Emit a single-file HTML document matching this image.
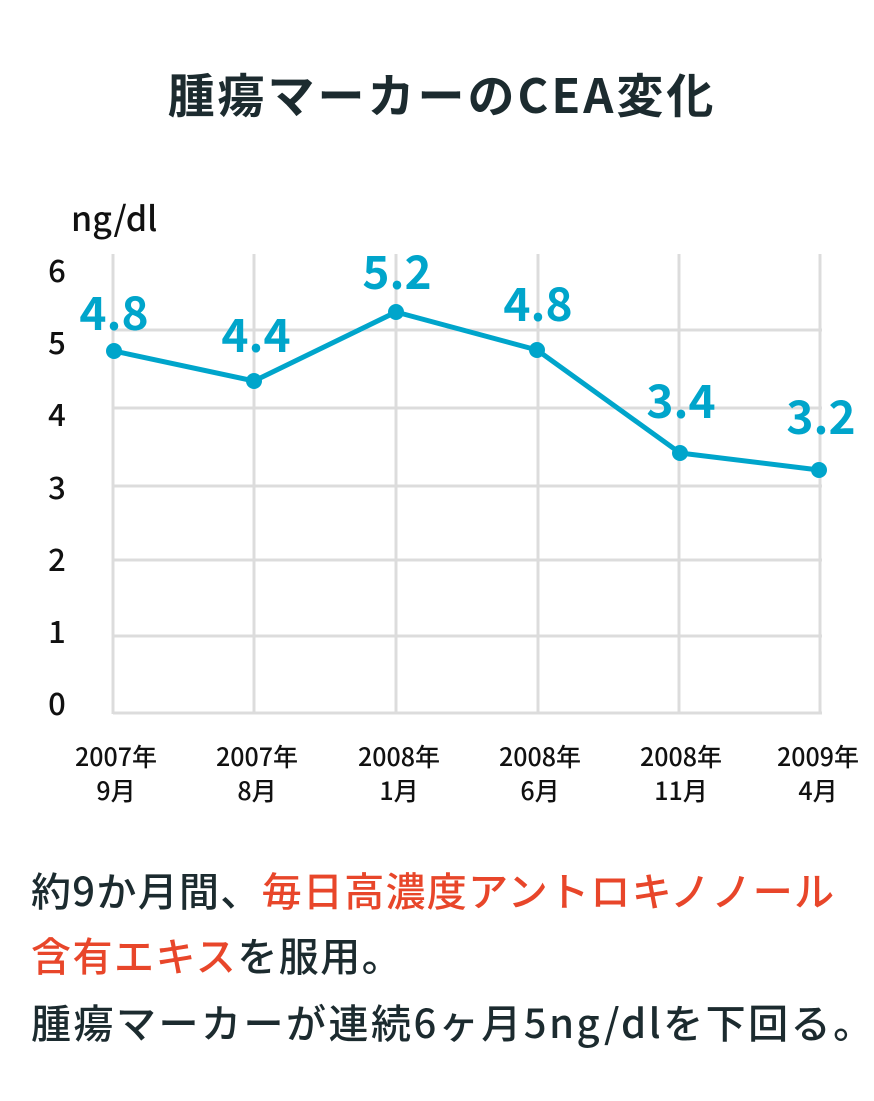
<!DOCTYPE html>
<html><head><meta charset="utf-8"><style>
body{margin:0;background:#fff;}
svg text{font-family:"Noto Sans CJK JP",sans-serif;}
</style></head><body>
<svg width="874" height="1096" viewBox="0 0 874 1096" xmlns="http://www.w3.org/2000/svg">
<rect width="874" height="1096" fill="#fff"/>
<text x="442" y="113" text-anchor="middle" font-size="47" font-weight="bold" letter-spacing="3" fill="#1c2b2f">腫瘍マーカーのCEA変化</text>
<text x="71" y="231" font-size="34" font-weight="500" fill="#111">ng/dl</text>
<g stroke="#dcdcdc" stroke-width="3">
<line x1="113" y1="254" x2="113" y2="714"/><line x1="254" y1="254" x2="254" y2="714"/><line x1="396" y1="254" x2="396" y2="714"/><line x1="538" y1="254" x2="538" y2="714"/><line x1="679" y1="254" x2="679" y2="714"/><line x1="820" y1="254" x2="820" y2="714"/>
<line x1="113" y1="713" x2="822" y2="713"/><line x1="113" y1="636" x2="822" y2="636"/><line x1="113" y1="560" x2="822" y2="560"/><line x1="113" y1="486" x2="822" y2="486"/><line x1="113" y1="408" x2="822" y2="408"/><line x1="113" y1="330" x2="822" y2="330"/>
</g>
<g font-size="31" font-weight="500" fill="#111" text-anchor="middle">
<text x="57" y="282">6</text><text x="57" y="354">5</text><text x="57" y="426">4</text><text x="57" y="499">3</text><text x="57" y="571">2</text><text x="57" y="643">1</text><text x="57" y="715">0</text>
</g>
<g font-size="25" font-weight="500" fill="#111" text-anchor="middle">
<text x="116" y="766">2007年</text><text x="116" y="800">9月</text>
<text x="257" y="766">2007年</text><text x="257" y="800">8月</text>
<text x="399" y="766">2008年</text><text x="399" y="800">1月</text>
<text x="540" y="766">2008年</text><text x="540" y="800">6月</text>
<text x="681" y="766">2008年</text><text x="681" y="800">11月</text>
<text x="818" y="766">2009年</text><text x="818" y="800">4月</text>
</g>
<polyline points="114,351 254,381 396,312 537,350 680,453 819,470" fill="none" stroke="#00a5cb" stroke-width="5" stroke-linejoin="round"/>
<g fill="#00a5cb">
<circle cx="114" cy="351" r="8"/><circle cx="254" cy="381" r="8"/><circle cx="396" cy="312" r="8"/><circle cx="537" cy="350" r="8"/><circle cx="680" cy="453" r="8"/><circle cx="819" cy="470" r="8"/>
</g>
<g font-size="46" font-weight="bold" fill="#00a5cb" text-anchor="middle">
<text x="114" y="330">4.8</text><text x="256" y="352">4.4</text><text x="397" y="289">5.2</text><text x="538" y="321">4.8</text><text x="681" y="418">3.4</text><text x="821" y="434">3.2</text>
</g>
<g font-size="40" font-weight="500" fill="#1c2b2f">
<text x="31" y="906" letter-spacing="1.3">約9か月間、<tspan fill="#e8462a">毎日高濃度アントロキノノール</tspan></text>
<text x="31" y="971" letter-spacing="1.5"><tspan fill="#e8462a">含有エキス</tspan>を服用。</text>
<text x="31" y="1038" letter-spacing="2.5">腫瘍マーカーが連続6ヶ月5ng/dlを下回る。</text>
</g>
</svg>
</body></html>
